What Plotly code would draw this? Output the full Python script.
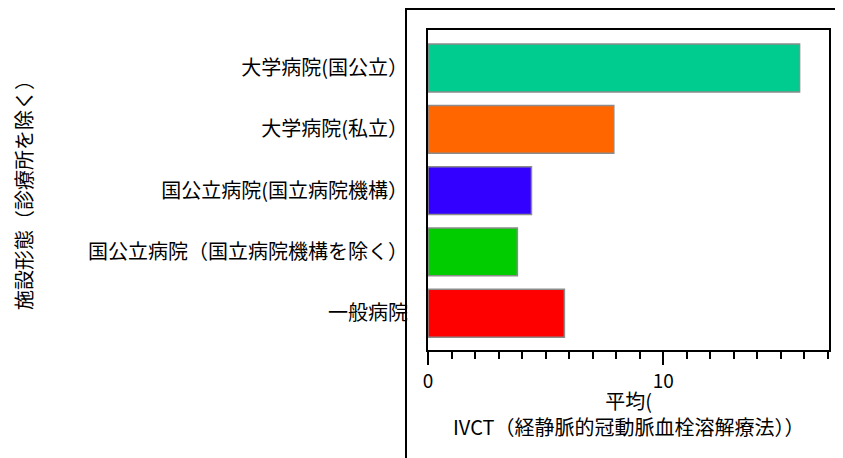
import plotly.graph_objects as go

# categories listed bottom to top
categories = ["一般病院", "国公立病院（国立病院機構を除く）", "国公立病院(国立病院機構）",
              "大学病院(私立）", "大学病院(国公立）"]
values = [5.8, 3.8, 4.4, 7.9, 15.8]
colors = ["#FF0000", "#00CC00", "#3300FF", "#FF6600", "#00CC8F"]

x_title = "平均(<br>IVCT（経静脈的冠動脈血栓溶解療法））"
y_title = "施設形態（診療所を除く）"

font_family = "Noto Sans CJK JP"

fig = go.Figure(go.Bar(
    x=values,
    y=categories,
    orientation="h",
    width=0.78,
    marker=dict(color=colors, line=dict(color="#8C8C8C", width=1.5)),
))

# page body adds a small offset, so work in target-screen pixels
OFF = 8
W, H = 843 - OFF, 458 - OFF
plot_l, plot_r, plot_t, plot_b = 428, 829, 30, 350
L, T = plot_l - OFF, plot_t - OFF
R, B = W - (plot_r - OFF), H - (plot_b - OFF)
pw, ph = plot_r - plot_l, plot_b - plot_t

def px_x(p):
    return (p - plot_l) / pw

def px_y(p):
    return (plot_b - p) / ph

fig.update_layout(
    width=W, height=H,
    margin=dict(l=L, r=R, t=T, b=B, autoexpand=False),
    plot_bgcolor="white",
    paper_bgcolor="white",
    showlegend=False,
    font=dict(family=font_family, color="black", size=20),
    xaxis=dict(
        range=[0, 17.05],
        dtick=10,
        ticks="outside",
        ticklen=13,
        tickwidth=1.5,
        tickcolor="black",
        minor=dict(dtick=1, ticks="outside", ticklen=7, tickwidth=1.5, tickcolor="black"),
        showgrid=False,
        zeroline=False,
        showline=True,
        linecolor="black",
        linewidth=2,
        mirror=True,
        tickfont=dict(size=19),
    ),
    yaxis=dict(
        range=[-0.6, 4.62],
        showgrid=False,
        zeroline=False,
        showline=True,
        linecolor="black",
        linewidth=2,
        mirror=True,
        ticks="",
        ticklabelstandoff=14,
        tickfont=dict(size=20),
    ),
    shapes=[dict(
        type="rect", xref="paper", yref="paper",
        x0=px_x(406), x1=px_x(900), y0=px_y(520), y1=px_y(9),
        line=dict(color="black", width=2),
        fillcolor="rgba(0,0,0,0)",
        layer="below",
    )],
    annotations=[
        dict(
            text=y_title,
            xref="paper", yref="paper",
            x=px_x(23), y=px_y(190),
            xanchor="center", yanchor="middle",
            textangle=-90, showarrow=False,
            font=dict(size=20),
        ),
        dict(
            text=x_title,
            xref="paper", yref="paper",
            x=0.5, y=px_y(413),
            xanchor="center", yanchor="middle",
            showarrow=False,
            font=dict(size=20),
        ),
    ],
)

fig.write_html("out.html")
